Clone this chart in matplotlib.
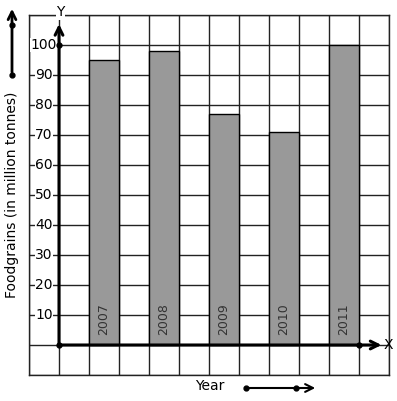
import matplotlib
matplotlib.use("Agg")
import matplotlib.pyplot as plt

# Data
years = ["2007", "2008", "2009", "2010", "2011"]
foodgrains = [95, 98, 77, 71, 100]
y_ticks = [10, 20, 30, 40, 50, 60, 70, 80, 90, 100]

W, H = 397, 401
fig = plt.figure(figsize=(W / 100, H / 100), dpi=100)
fig.patch.set_facecolor("white")

# axes spans the squared paper grid (pixels 29..389 x 15..375)
ax = fig.add_axes([29 / W, 1 - 375 / H, 360 / W, 360 / H])
ax.set_xlim(-1, 11)
ax.set_ylim(-10, 110)
ax.set_xticks(range(-1, 12))
ax.set_yticks(range(-10, 111, 10))
ax.grid(True, color="#222222", linewidth=1)
ax.set_axisbelow(True)
ax.tick_params(length=0, labelbottom=False, labelleft=False)
for spine in ax.spines.values():
    spine.set_color("#222222")
    spine.set_linewidth(1)

# Bars, one grid cell wide with a gap cell between
xpos = [1.5 + 2 * i for i in range(len(years))]
ax.bar(xpos, foodgrains, width=1, color="#999999", edgecolor="black",
       linewidth=1, zorder=2)

for x, yr in zip(xpos, years):
    ax.text(x, 3.2, yr, rotation=90, ha="center", va="bottom",
            fontsize=9, color="#333333", zorder=3)

# Axis arrows
ax.annotate("", xy=(0, 107), xytext=(0, 0),
            arrowprops=dict(arrowstyle="->", lw=2.2, color="black",
                            mutation_scale=14, shrinkA=0, shrinkB=0),
            annotation_clip=False, zorder=4)
ax.annotate("", xy=(10.75, 0), xytext=(0, 0),
            arrowprops=dict(arrowstyle="->", lw=2.2, color="black",
                            mutation_scale=14, shrinkA=0, shrinkB=0),
            annotation_clip=False, zorder=4)
ax.plot([0, 0, 10], [0, 100, 0], "o", color="black", markersize=3.5,
        clip_on=False, zorder=5)
ax.text(10.97, 0, "X", ha="center", va="center", fontsize=10)
ax.text(0.05, 111, "Y", ha="center", va="center", fontsize=10,
        bbox=dict(facecolor="white", edgecolor="none", pad=0.5))

# Tick labels sitting on the grid lines
for v in y_ticks:
    ax.text(-0.5, v, str(v), ha="center", va="center", fontsize=10,
            bbox=dict(facecolor="white", edgecolor="none", pad=0.3),
            zorder=3)

# Axis titles
fig.text(12 / W, 1 - 195 / H, "Foodgrains (in million tonnes)", rotation=90,
         ha="center", va="center", fontsize=10)
fig.text(210 / W, 1 - 386 / H, "Year", ha="center", va="center", fontsize=10)

# Direction arrows
fig.add_artist(matplotlib.patches.FancyArrowPatch(
    (12 / W, 1 - 75 / H), (12 / W, 1 - 6 / H), transform=fig.transFigure,
    arrowstyle="->", lw=2, color="black", mutation_scale=14))
fig.add_artist(plt.Line2D([12 / W, 12 / W], [1 - 25 / H, 1 - 75 / H],
                          transform=fig.transFigure, marker="o",
                          linestyle="none", color="black", markersize=3.5))
fig.add_artist(matplotlib.patches.FancyArrowPatch(
    (246 / W, 1 - 388 / H), (318 / W, 1 - 388 / H), transform=fig.transFigure,
    arrowstyle="->", lw=1.5, color="black", mutation_scale=14))
fig.add_artist(plt.Line2D([246 / W, 296 / W], [1 - 388 / H, 1 - 388 / H],
                          transform=fig.transFigure, marker="o",
                          linestyle="none", color="black", markersize=3.5))

fig.savefig("out.png", dpi=100, facecolor="white")
